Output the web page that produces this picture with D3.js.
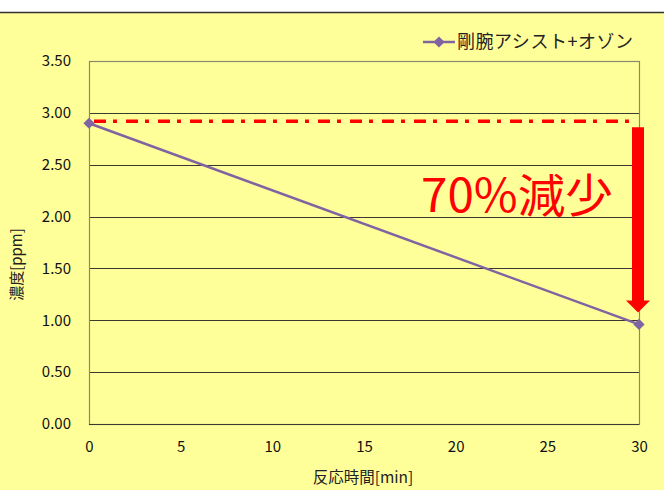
<!DOCTYPE html>
<html>
<head>
<meta charset="utf-8">
<script src="https://cdn.jsdelivr.net/npm/d3@7"></script>
<style>
  body { margin: 0; background: #fff; }
  svg { display: block; }
  text { font-family: "Noto Sans CJK JP", "Noto Sans", sans-serif; }
</style>
</head>
<body>
<script>
// data
var minutes = [0, 30];
var ppm = [2.90, 0.96];
var seriesName = "剛腕アシスト+オゾン";
var yTicks = [0, 0.5, 1, 1.5, 2, 2.5, 3, 3.5];
var xTicks = [0, 5, 10, 15, 20, 25, 30];
var startLevel = 2.92; // red dash-dot reference
var noteText = "70%減少";

var svgWidth = 664, svgHeight = 490;
var margin = {top: 61, right: 25, bottom: 66, left: 89},
    width = svgWidth - margin.left - margin.right,
    height = svgHeight - margin.top - margin.bottom;

var svg = d3.select("body").append("svg")
    .attr("width", svgWidth).attr("height", svgHeight);

// yellow panel with a dark top rule
svg.append("rect").attr("x", 0).attr("y", 12)
    .attr("width", svgWidth).attr("height", svgHeight - 12)
    .attr("fill", "#ffff99");
svg.append("line").attr("x1", 0).attr("x2", svgWidth)
    .attr("y1", 12.5).attr("y2", 12.5)
    .attr("stroke", "#333").attr("stroke-width", 1.5);

var chartGroup = svg.append("g")
    .attr("transform", "translate(" + margin.left + "," + margin.top + ")");

var xScale = d3.scaleLinear().domain([0, 30]).range([0, width]);
var yScale = d3.scaleLinear().domain([0, 3.5]).range([height, 0]);

// gridlines
chartGroup.selectAll(".grid")
    .data(yTicks.slice(1, -1))
  .enter().append("line")
    .attr("x1", 0).attr("x2", width)
    .attr("y1", function(d) { return Math.round(yScale(d)) + 0.5; })
    .attr("y2", function(d) { return Math.round(yScale(d)) + 0.5; })
    .attr("stroke", "#3a3a30").attr("stroke-width", 1);

// plot border
chartGroup.append("rect")
    .attr("x", 0.5).attr("y", 0.5)
    .attr("width", width).attr("height", height)
    .attr("fill", "none").attr("stroke", "#8a8a6a").attr("stroke-width", 1.2);
chartGroup.append("line")
    .attr("x1", 0).attr("x2", width)
    .attr("y1", height + 0.5).attr("y2", height + 0.5)
    .attr("stroke", "#3a3a30").attr("stroke-width", 1.2);

// axes (labels only)
var yAxis = d3.axisLeft(yScale).tickValues(yTicks)
    .tickFormat(d3.format(".2f")).tickSize(0).tickPadding(18);
var xAxis = d3.axisBottom(xScale).tickValues(xTicks).tickSize(0).tickPadding(17);

chartGroup.append("g").attr("class", "y axis").call(yAxis);
chartGroup.append("g").attr("class", "x axis")
    .attr("transform", "translate(0," + height + ")").call(xAxis);
chartGroup.selectAll(".axis path").remove();
chartGroup.selectAll(".axis text")
    .attr("font-family", "'Noto Sans CJK JP', sans-serif")
    .attr("font-size", "15px").attr("fill", "#111");

// axis titles
svg.append("text")
    .attr("text-anchor", "middle")
    .attr("transform", "translate(22," + (margin.top + height / 2 + 22) + ")rotate(-90)")
    .attr("font-size", "15px").attr("fill", "#222")
    .text("濃度[ppm]");
svg.append("text")
    .attr("text-anchor", "middle")
    .attr("x", margin.left + width / 2 - 1).attr("y", 483)
    .attr("font-size", "15.5px").attr("fill", "#222")
    .text("反応時間[min]");

// red dash-dot start level
chartGroup.append("line")
    .attr("x1", xScale(0) + 5).attr("x2", xScale(30) - 8)
    .attr("y1", yScale(startLevel)).attr("y2", yScale(startLevel))
    .attr("stroke", "#ff0000").attr("stroke-width", 3.5)
    .attr("stroke-dasharray", "12,7,4,9");

// data line
var data = minutes.map(function(m, i) { return {min: m, val: ppm[i]}; });
var line = d3.line()
    .x(function(d) { return xScale(d.min); })
    .y(function(d) { return yScale(d.val); });
chartGroup.append("path").datum(data)
    .attr("d", line)
    .attr("fill", "none").attr("stroke", "#8064a2").attr("stroke-width", 2.5);

var diamond = d3.symbol().type(d3.symbolDiamond2).size(80);
chartGroup.selectAll(".dot")
    .data(data)
  .enter().append("path")
    .attr("class", "dot")
    .attr("d", diamond)
    .attr("transform", function(d) { return "translate(" + xScale(d.min) + "," + yScale(d.val) + ")"; })
    .attr("fill", "#8064a2");

// red arrow down to the end value
var ax = xScale(30) - 1,
    aTop = yScale(startLevel) + 6,
    aTip = yScale(ppm[1]) - 12,
    headH = 12, shaftW = 6, headW = 12;
chartGroup.append("path")
    .attr("d", "M" + (ax - shaftW) + "," + aTop +
               "L" + (ax + shaftW) + "," + aTop +
               "L" + (ax + shaftW) + "," + (aTip - headH) +
               "L" + (ax + headW) + "," + (aTip - headH) +
               "L" + ax + "," + aTip +
               "L" + (ax - headW) + "," + (aTip - headH) +
               "L" + (ax - shaftW) + "," + (aTip - headH) + "Z")
    .attr("fill", "#ff0000");

// note
chartGroup.append("text")
    .attr("x", xScale(30) - 218).attr("y", 212 - margin.top)
    .attr("font-size", "46px").attr("fill", "#ff0000")
    .attr("textLength", 192).attr("lengthAdjust", "spacingAndGlyphs")
    .text(noteText);

// legend
var legend = svg.append("g").attr("transform", "translate(423,42)");
legend.append("line").attr("x1", 0).attr("x2", 32).attr("y1", 0).attr("y2", 0)
    .attr("stroke", "#8064a2").attr("stroke-width", 2.5);
legend.append("path").attr("d", diamond).attr("transform", "translate(16,0)")
    .attr("fill", "#8064a2");
legend.append("text").attr("x", 34).attr("y", 6)
    .attr("font-size", "18px").attr("fill", "#222")
    .attr("textLength", 176).attr("lengthAdjust", "spacing")
    .text(seriesName);
</script>
</body>
</html>
